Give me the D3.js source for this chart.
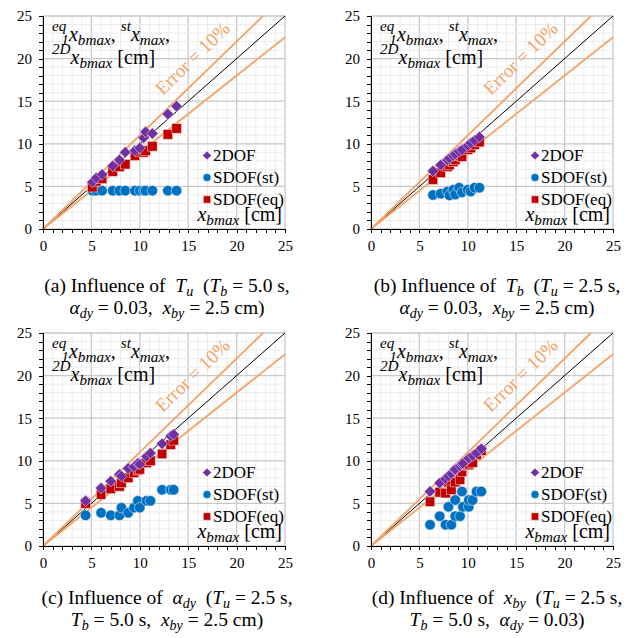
<!DOCTYPE html>
<html>
<head>
<meta charset="utf-8">
<title>xbmax comparison</title>
<script src="https://d3js.org/d3.v7.min.js"></script>
<style>
  body { margin: 0; background: #fff; }
  .axis path, .axis line { stroke: #000; shape-rendering: crispEdges; }
</style>
</head>
<body>
<script>
// (a) influence of Tu
var xA     = [5.1, 5.5, 6.1, 7.2, 7.9, 8.5, 9.5, 10.0, 10.4, 10.6, 11.3, 12.9, 13.8];
var twoA   = [5.5, 6.0, 6.4, 7.4, 8.1, 9.0, 9.2, 9.5, 10.7, 11.4, 11.2, 13.5, 14.4];
var stA    = [4.5, 4.5, 4.5, 4.5, 4.5, 4.5, 4.5, 4.5, 4.5, 4.5, 4.5, 4.5, 4.5];
var eqA    = [4.9, 5.6, 5.9, 6.75, 7.3, 7.6, 8.6, 9.1, 9.0, 9.2, 9.7, 11.1, 11.8];
// (b) influence of Tb
var xB     = [6.4, 7.2, 7.9, 8.1, 8.5, 8.7, 9.1, 9.4, 10.0, 10.3, 10.7, 11.2];
var twoB   = [6.8, 7.5, 8.1, 8.3, 8.6, 8.8, 9.1, 9.3, 9.8, 10.1, 10.4, 10.8];
var stB    = [4.0, 4.15, 4.4, 3.95, 4.6, 4.05, 4.85, 4.3, 4.6, 4.4, 4.85, 4.85];
var eqB    = [5.8, 6.6, 7.3, 7.5, 7.9, 8.1, 8.6, 8.5, 9.3, 9.5, 9.9, 10.2];
// (c) influence of alpha_dy
var xC     = [4.4, 6.0, 7.0, 7.9, 8.1, 8.8, 9.4, 9.8, 10.0, 10.7, 11.1, 12.3, 13.2, 13.5];
var twoC   = [5.3, 6.8, 7.6, 8.4, 8.2, 9.1, 9.3, 9.7, 9.6, 10.5, 10.9, 12.0, 12.9, 13.1];
var stC    = [3.6, 3.9, 3.6, 3.6, 4.5, 3.9, 4.5, 5.3, 4.5, 5.3, 5.3, 6.6, 6.6, 6.6];
var eqC    = [5.0, 6.05, 6.7, 7.0, 7.4, 8.0, 8.6, 8.9, 9.0, 9.75, 10.0, 10.8, 11.9, 12.4];
// (d) influence of x_by
var xD     = [6.1, 7.1, 7.7, 8.0, 8.3, 8.7, 8.7, 9.2, 9.4, 9.5, 10.1, 10.1, 10.5, 10.9, 11.4];
var twoD   = [6.4, 7.4, 7.9, 8.2, 8.5, 8.9, 9.0, 9.4, 9.6, 9.7, 10.3, 10.3, 10.6, 10.9, 11.4];
var stD    = [2.5, 3.5, 2.5, 4.6, 2.5, 3.5, 5.4, 3.5, 6.4, 4.6, 4.6, 5.4, 5.4, 6.4, 6.4];
var eqD    = [5.2, 6.3, 6.2, 7.5, 6.6, 7.5, 8.6, 7.8, 8.7, 9.45, 9.5, 9.6, 9.8, 10.7, 11.2];

var tickValues = [0, 5, 10, 15, 20, 25];
var seriesNames = ["2DOF", "SDOF(st)", "SDOF(eq)"];
var errorRatio = [1.1, 0.9];

var width = 635, height = 638;
var pw = 242, ph = 213;
var orange = "#f4a46a";
var serif = "'Liberation Serif', 'Times New Roman', serif";
var NB = "\u00a0";

var svg = d3.select("body").append("svg")
  .attr("width", width)
  .attr("height", height)
  .style("font-family", serif);

// caption segments: [text, kind]  r=roman i=italic b=italic subscript p=italic superscript
var panels = [
  { dx: 43,  dy: 16,  x: xA, s: [twoA, stA, eqA], capX: 167, capY: [63, 85],
    cap1: [["(a) Influence of" + NB + NB,"r"],["T","i"],["u","b"],[NB + NB + "(","r"],["T","i"],["b","b"],[" = 5.0 s,","r"]],
    cap2: [["α","i"],["dy","b"],[" = 0.03," + NB + NB,"r"],["x","i"],["by","b"],[" = 2.5 cm)","r"]] },
  { dx: 371, dy: 16,  x: xB, s: [twoB, stB, eqB], capX: 497, capY: [63, 85],
    cap1: [["(b) Influence of" + NB + NB,"r"],["T","i"],["b","b"],[NB + NB + "(","r"],["T","i"],["u","b"],[" = 2.5 s,","r"]],
    cap2: [["α","i"],["dy","b"],[" = 0.03," + NB + NB,"r"],["x","i"],["by","b"],[" = 2.5 cm)","r"]] },
  { dx: 43,  dy: 333, x: xC, s: [twoC, stC, eqC], capX: 167, capY: [58, 80],
    cap1: [["(c) Influence of" + NB + NB,"r"],["α","i"],["dy","b"],[NB + NB + "(","r"],["T","i"],["u","b"],[" = 2.5 s,","r"]],
    cap2: [["T","i"],["b","b"],[" = 5.0 s," + NB + NB,"r"],["x","i"],["by","b"],[" = 2.5 cm)","r"]] },
  { dx: 371, dy: 333, x: xD, s: [twoD, stD, eqD], capX: 497, capY: [58, 80],
    cap1: [["(d) Influence of" + NB + NB,"r"],["x","i"],["by","b"],[NB + NB + "(","r"],["T","i"],["u","b"],[" = 2.5 s,","r"]],
    cap2: [["T","i"],["b","b"],[" = 5.0 s," + NB + NB,"r"],["α","i"],["dy","b"],[" = 0.03)","r"]] }
];

function rich(textSel, segs, size, subScale, supShift) {
  var cur = 0;
  subScale = subScale || 0.72;
  supShift = supShift || 0.45;
  textSel.style("font-family", serif).style("font-size", size + "px");
  segs.forEach(function(sg) {
    var kind = sg[1], fs = size, shift = 0;
    if (kind === "b") { fs = size * subScale; shift = size * 0.22; }
    if (kind === "p") { fs = size * subScale; shift = -size * supShift; }
    var t = textSel.append("tspan")
      .attr("dy", shift - cur)
      .style("font-family", serif)
      .style("font-size", fs + "px")
      .text(sg[0]);
    if (sg[2]) t.attr("dx", sg[2]);
    if (kind !== "r") t.style("font-style", "italic");
    cur = shift;
  });
}

var x = d3.scaleLinear().domain([0, 25]).range([0, pw]);
var y = d3.scaleLinear().domain([0, 25]).range([ph, 0]);
var minor = d3.range(0, 26, 1);

function marker(g, k, cx, cy, r) {
  if (k === 0) {
    var d = r * 1.15;
    g.append("path").attr("d", "M" + cx + "," + (cy - d) + "L" + (cx + d) + "," + cy + "L" + cx + "," + (cy + d) + "L" + (cx - d) + "," + cy + "Z")
      .attr("fill", "#7030a0").attr("stroke", "#e6d9f0").attr("stroke-width", 0.6);
  } else if (k === 1) {
    g.append("circle").attr("cx", cx).attr("cy", cy).attr("r", r * 1.05)
      .attr("fill", "#0070c0").attr("stroke", "#d9e8f5").attr("stroke-width", 0.6);
  } else {
    g.append("rect").attr("x", cx - r * 0.95).attr("y", cy - r * 0.95).attr("width", r * 1.9).attr("height", r * 1.9)
      .attr("fill", "#c00000").attr("stroke", "#f2c4c4").attr("stroke-width", 0.6);
  }
}

panels.forEach(function(p) {
  var g = svg.append("g").attr("transform", "translate(" + p.dx + "," + p.dy + ")");

  // grid
  g.selectAll(".minx").data(minor).enter().append("line")
    .attr("x1", function(d){ return x(d); }).attr("x2", function(d){ return x(d); })
    .attr("y1", 0).attr("y2", ph)
    .attr("stroke", function(d){ return d % 5 === 0 ? "#c8c8c8" : "#ececec"; })
    .attr("stroke-width", function(d){ return d % 5 === 0 ? 1.3 : 1; });
  g.selectAll(".miny").data(minor).enter().append("line")
    .attr("y1", function(d){ return y(d); }).attr("y2", function(d){ return y(d); })
    .attr("x1", 0).attr("x2", pw)
    .attr("stroke", function(d){ return d % 5 === 0 ? "#c8c8c8" : "#ececec"; })
    .attr("stroke-width", function(d){ return d % 5 === 0 ? 1.3 : 1; });

  // reference lines
  g.append("line").attr("x1", x(0)).attr("y1", y(0)).attr("x2", x(25)).attr("y2", y(25))
    .attr("stroke", "#000").attr("stroke-width", 1);
  errorRatio.forEach(function(k) {
    var xe = k > 1 ? 25 / k : 25;
    g.append("line").attr("x1", x(0)).attr("y1", y(0)).attr("x2", x(xe)).attr("y2", y(xe * k))
      .attr("stroke", orange).attr("stroke-width", 1.8);
  });
  var ang = Math.atan2(y(0) - y(22), x(20) - x(0)) * 180 / Math.PI;
  g.append("text")
    .attr("transform", "translate(" + x(15.9) + "," + y(19.5) + ") rotate(" + (-ang) + ")")
    .attr("text-anchor", "middle")
    .style("font-family", serif)
    .style("font-size", "19px")
    .style("fill", orange)
    .text("Error = 10%");

  // points: SDOF(st), SDOF(eq), then 2DOF
  [1, 2, 0].forEach(function(k) {
    p.x.forEach(function(v, i) {
      marker(g, k, x(v), y(p.s[k][i]), 5);
    });
  });

  // axes
  var fmt = function(d){ return tickValues.indexOf(d) >= 0 ? d : ""; };
  g.append("g").attr("class", "axis")
    .attr("transform", "translate(0," + ph + ")")
    .call(d3.axisBottom(x).tickValues(minor).tickSize(4).tickPadding(7).tickFormat(fmt));
  g.append("g").attr("class", "axis")
    .call(d3.axisLeft(y).tickValues(minor).tickSize(4).tickPadding(7).tickFormat(fmt));
  g.selectAll(".axis").attr("font-family", null).attr("font-size", null);
  g.selectAll(".axis text").style("font-family", serif).style("font-size", "15px");
  g.selectAll(".axis .domain").attr("stroke-width", 1.2);

  // y label (top-left)
  var l1 = g.append("text").attr("x", 9).attr("y", 25);
  rich(l1, [["eq","p"],["1","b",-5],["x","i"],["bmax","b"],[", ","r"],["st","p"],["x","i"],["max","b"],[",","r"]], 20, 0.76, 0.5);
  var l2 = g.append("text").attr("x", 9).attr("y", 48);
  rich(l2, [["2D","p"],["x","i"],["bmax","b"],[" [cm]","r"]], 20, 0.76, 0.5);

  // x label (bottom-right)
  var l3 = g.append("text").attr("x", pw - 3).attr("y", ph - 8).attr("text-anchor", "end");
  rich(l3, [["x","i"],["bmax","b"],[" [cm]","r"]], 20, 0.76);

  // legend
  seriesNames.forEach(function(n, k) {
    var ly = 139.5 + k * 22;
    marker(g, k, 164, ly, 3.8);
    g.append("text").attr("x", 170).attr("y", ly + 5.5)
      .style("font-family", serif).style("font-size", "17px").text(n);
  });

  // caption
  var c1 = svg.append("text").attr("x", p.capX).attr("y", p.dy + ph + p.capY[0]).attr("text-anchor", "middle");
  rich(c1, p.cap1, 19.5);
  var c2 = svg.append("text").attr("x", p.capX).attr("y", p.dy + ph + p.capY[1]).attr("text-anchor", "middle");
  rich(c2, p.cap2, 19.5);
});
</script>
</body>
</html>
